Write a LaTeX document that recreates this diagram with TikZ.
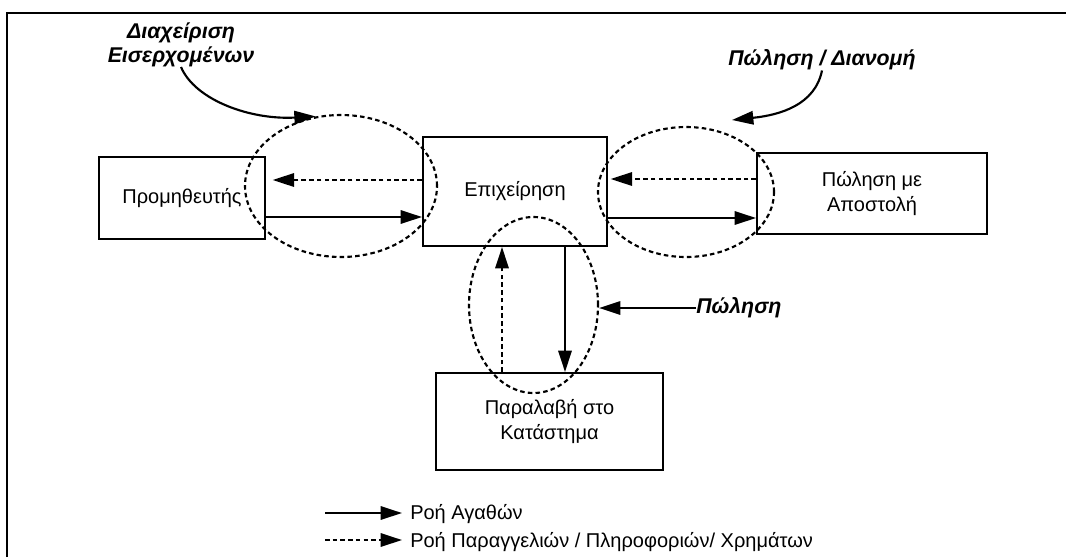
\documentclass[tikz,border=0pt]{standalone}
\usepackage{fontspec}
\setmainfont{Liberation Sans}
\usetikzlibrary{arrows.meta,shapes.geometric}

\begin{document}
\begin{tikzpicture}[x=0.75pt,y=-0.75pt,
  box/.style={draw,line width=1.5pt,rectangle,inner sep=0pt,align=center,
    font=\fontsize{15}{19}\selectfont},
  zone/.style={ellipse,draw,line width=1.6pt,dash pattern=on 3.4pt off 2.4pt,inner sep=0pt},
  goods/.style={line width=1.6pt,-{Triangle[length=16pt,width=10pt]}},
  orders/.style={goods,dash pattern=on 3.4pt off 2.4pt},
  note/.style={font=\fontsize{16}{17.5}\selectfont\bfseries\itshape,align=center,inner sep=0pt},
  legtext/.style={font=\fontsize{15}{18}\selectfont,inner sep=0pt,anchor=west}]

\useasboundingbox (0,0) rectangle (1066,557);

% page frame (top and left edges)
\draw[line width=2.2pt] (7,557) -- (7,13) -- (1066,13);

% partners
\node[box,minimum width=124.5pt,minimum height=61.5pt] (sup) at (182,198) {Προμηθευτής};
\node[box,minimum width=138pt,minimum height=81.75pt] (firm) at (515,191.5) {Επιχείρηση};
\node[box,minimum width=172.5pt,minimum height=60.75pt] (ship) at (872,193.5) {Πώληση με\\Αποστολή};
\node[box,minimum width=170.25pt,minimum height=72.75pt] (store) at (549.5,421.5) {Παραλαβή στο\\Κατάστημα};

% functional zones
\node[zone,minimum width=144pt,minimum height=106.5pt] (inbound) at (341,186) {};
\node[zone,minimum width=132pt,minimum height=97.5pt] (dist) at (686,192) {};
\node[zone,minimum width=96.75pt,minimum height=132pt] (pickup) at (533.5,305) {};

% flows between partners
\draw[goods] (sup.east |- 0,217) -- (firm.west |- 0,217);
\draw[orders,shorten >=5pt] (firm.west |- 0,180) -- (sup.east |- 0,180);
\draw[goods] (firm.east |- 0,218) -- (ship.west |- 0,218);
\draw[orders,shorten >=2pt] (ship.west |- 0,179) -- (firm.east |- 0,179);
\draw[goods] (firm.south -| 565,0) -- (store.north -| 565,0);
\draw[orders] (store.north -| 502,0) -- (firm.south -| 502,0);

% zone labels
\node[note] (lblIn) at (181,45) {Διαχείριση\\Εισερχομένων};
\node[note] (lblDist) at (822,60) {Πώληση / Διανομή};
\node[note,anchor=west] (lblSale) at (696,308) {Πώληση};
\coordinate (distIn) at (732,120);

\draw[goods] (lblIn.south) .. controls (195,100) and (250,120) .. (inbound.110);
\draw[goods] (lblDist.south) .. controls (815,105) and (780,115) .. (distIn);
\draw[goods] (lblSale.west) -- (pickup.east |- lblSale.west);

% legend
\coordinate (k1) at (325,513);
\coordinate (k2) at (325,540);
\node[legtext] (leg1) at (410,514) {Ροή Αγαθών};
\node[legtext] (leg2) at (410,542) {Ροή Παραγγελιών / Πληροφοριών/ Χρημάτων};
\draw[goods,shorten >=6pt] (k1) -- (leg1.west |- k1);
\draw[orders,shorten >=6pt] (k2) -- (leg2.west |- k2);

\end{tikzpicture}
\end{document}
